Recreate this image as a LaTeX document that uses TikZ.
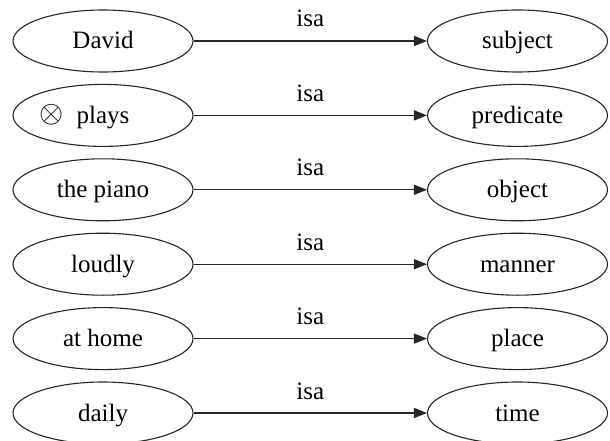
\documentclass[tikz,border=0pt]{standalone}
\usepackage{fontspec}
\setmainfont{Liberation Serif}
\usetikzlibrary{shapes.geometric,arrows.meta}

\tikzset{
  term/.style={ellipse, draw=black!85, line width=1.1pt, minimum width=180pt,
    minimum height=62pt, inner sep=0pt, font=\fontsize{25}{30}\selectfont,
    text height=19pt, text depth=3pt},
  isaedge/.style={draw=black!85, line width=1.3pt,
    -{Triangle[length=13pt,width=10pt]}},
  isalabel/.style={font=\fontsize{25}{30}\selectfont, inner sep=0pt, anchor=base}
}

\begin{document}
\begin{tikzpicture}[x=1pt,y=-1pt]
  \useasboundingbox (0,0) rectangle (610,441);

  % left column: the sentence parts
  \node[term] (l1) at (103,41)    {David};
  \node[term] (l2) at (103,115.4) {\makebox[0pt][r]{\raisebox{0.5pt}{\scalebox{1.25}{$\otimes$}}\hspace{13pt}}plays};
  \node[term] (l3) at (103,189.8) {the piano};
  \node[term] (l4) at (103,264.2) {loudly};
  \node[term] (l5) at (103,338.6) {at home};
  \node[term] (l6) at (103,413)   {daily};

  % right column: grammatical roles
  \node[term] (r1) at (517.5,41)    {subject};
  \node[term] (r2) at (517.5,115.4) {predicate};
  \node[term] (r3) at (517.5,189.8) {object};
  \node[term] (r4) at (517.5,264.2) {manner};
  \node[term] (r5) at (517.5,338.6) {place};
  \node[term] (r6) at (517.5,413)   {time};

  % isa relations
  \foreach \i in {1,...,6} {
    \draw[isaedge] (l\i) -- (r\i);
    \path (l\i.east) -- (r\i.west) node[isalabel, pos=0.5, yshift=14pt] (isa\i) {isa};
  }
\end{tikzpicture}
\end{document}
